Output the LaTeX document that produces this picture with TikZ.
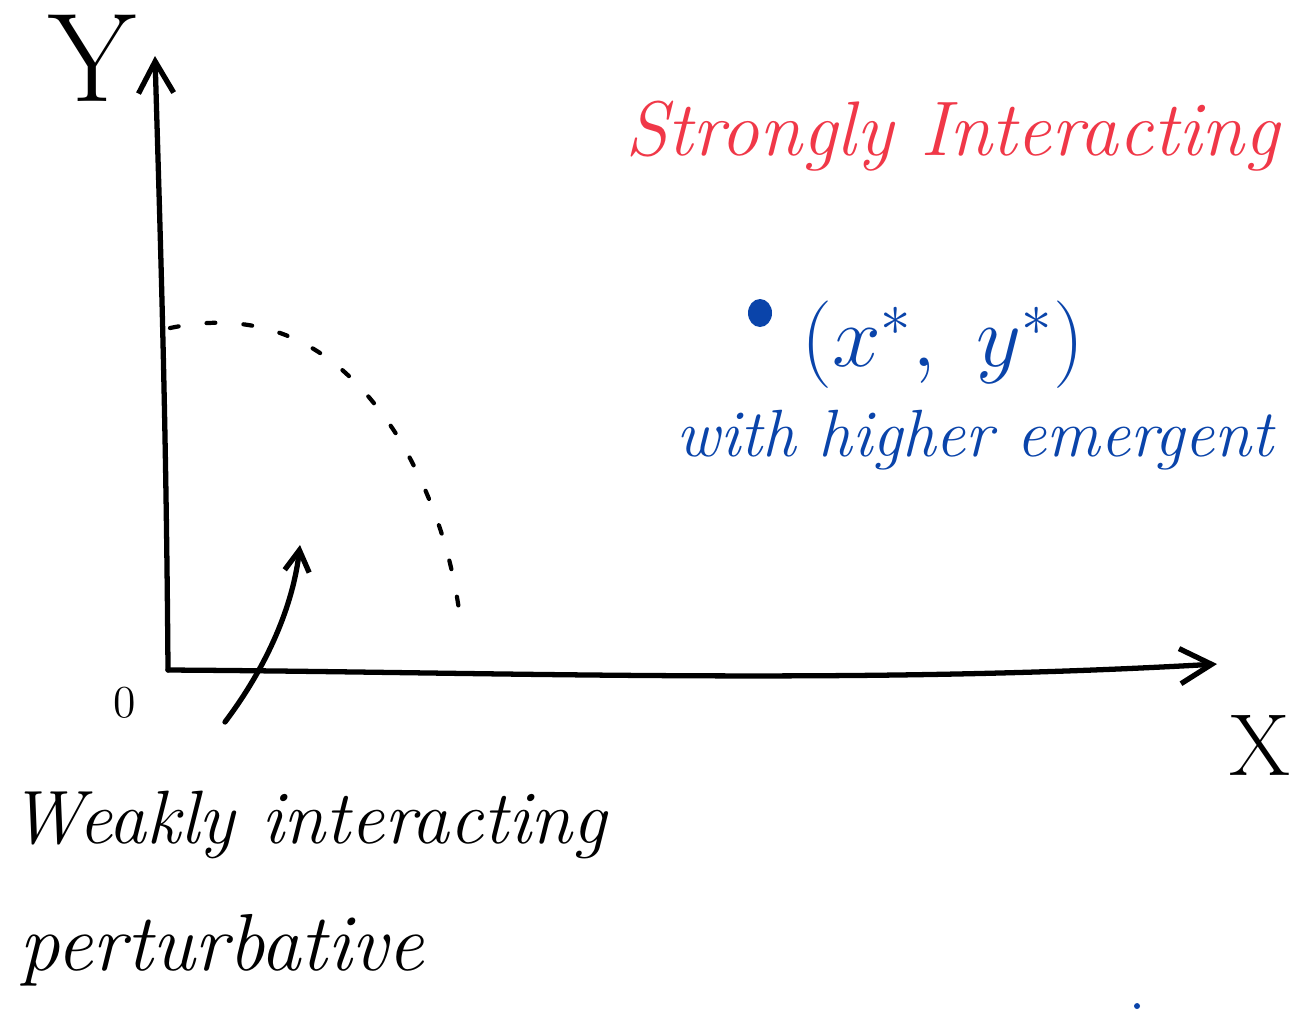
\documentclass[tikz,border=0pt]{standalone}
\usepackage{amsmath,amssymb}
\usepackage{tikz}
\usetikzlibrary{arrows.meta,positioning}
\usepackage{xcolor}
\definecolor{sired}{RGB}{240,56,72}
\definecolor{emblue}{RGB}{10,68,170}

\begin{document}
\begin{tikzpicture}[x=0.01cm,y=-0.01cm,line width=1.5pt,line cap=round,line join=round,
  every node/.style={inner sep=0pt}]
\tikzstyle{axis}=[-{Straight Barb[length=9pt,width=10pt,line width=1.5pt]}]
\tikzstyle{hint}=[-{Straight Barb[length=6pt,width=7pt,line width=1.5pt]}]
\tikzstyle{bound}=[line width=1.2pt,dash pattern=on 2.5pt off 8pt]
\tikzstyle{word}=[font=\fontsize{20}{24}\selectfont\itshape]
\useasboundingbox (0,0) rectangle (1295,1017);
% axes
\coordinate (o) at (168,670);
\coordinate (ytop) at (155,56);
\coordinate (xend) at (1217,664);
\draw[axis] (o) .. controls (166,400) and (160,230) .. (ytop);
\draw[axis] (o) .. controls (500,672) and (850,685) .. (xend);
\node[font=\fontsize{36}{40}\selectfont] (ylab) at (92,58) {Y};
\node[font=\fontsize{25}{30}\selectfont] (xlab) at (1260,745) {X};
\node[font=\fontsize{13}{15}\selectfont] (zero) at (125,703) {0};
% weak region boundary
\coordinate (b1) at (170,328);
\coordinate (b2) at (462,633);
\draw[bound] (b1) .. controls (280,305) and (350,360) .. (400,440)
  .. controls (440,510) and (455,570) .. (b2);
% labels
\node[word,font=\fontsize{22}{26}\selectfont\itshape,text=sired] (strong) at (952,136) {Strongly Interacting};
\fill[emblue] (760,313) ellipse (12 and 14);
\node[font=\fontsize{24}{28}\selectfont,text=emblue] (fp) at (943,345) {$(x^{*},\ y^{*})$};
\node[word,font=\fontsize{19}{23}\selectfont\itshape,text=emblue] (emerg) at (975,440) {with higher emergent};
\node[word,font=\fontsize{21.5}{26}\selectfont\itshape] (weak) at (308,825) {Weakly interacting};
\node[word,font=\fontsize{23}{28}\selectfont\itshape] (pert) at (222,950) {perturbative};
\fill[emblue] (1137,1006) circle (3);
% pointer to weak region
\coordinate (wtail) at (225,722);
\coordinate (whead) at (300,545);
\draw[hint] (wtail) .. controls (268,665) and (293,605) .. (whead);
\end{tikzpicture}
\end{document}
